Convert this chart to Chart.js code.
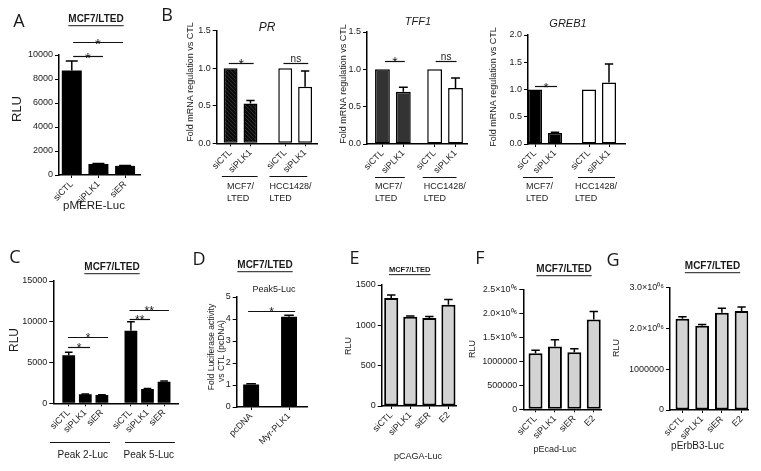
<!DOCTYPE html>
<html><head><meta charset="utf-8">
<script src="https://cdn.jsdelivr.net/npm/chart.js@4/dist/chart.umd.min.js"></script>
<style>
html,body{margin:0;padding:0;background:#fff}
#wrap{position:relative;width:761px;height:471px;background:#fff;overflow:hidden}
#wrap canvas{position:absolute;left:0;top:0}
</style></head>
<body><div id="wrap"></div>
<script>
// ---------- DATA ----------
// Panel A
const aLabels = ['siCTL', 'siPLK1', 'siER'];
const aValues = [8700, 920, 760];
const aErrTop = [9500, 960, 800];
const aYTicks = [0, 2000, 4000, 6000, 8000, 10000];
const aYTickLabels = ['0', '2000', '4000', '6000', '8000', '10000'];
// Panel B
const bLabels = ['siCTL', 'siPLK1', 'siCTL', 'siPLK1'];
const bGroups = [['MCF7/', 'LTED'], ['HCC1428/', 'LTED']];
const prValues = [1.0, 0.53, 1.0, 0.755];
const prErrTop = [1.0, 0.57, 1.0, 0.965];
const tff1Values = [1.0, 0.70, 1.0, 0.75];
const tff1ErrTop = [1.0, 0.76, 1.0, 0.885];
const greb1Values = [1.0, 0.20, 1.0, 1.13];
const greb1ErrTop = [1.0, 0.215, 1.0, 1.47];
const bYTicks15 = [0, 0.5, 1.0, 1.5];
const bYTickLabels15 = ['0.0', '0.5', '1.0', '1.5'];
const bYTicks20 = [0, 0.5, 1.0, 1.5, 2.0];
const bYTickLabels20 = ['0.0', '0.5', '1.0', '1.5', '2.0'];
// Panel C
const cLabels = ['siCTL', 'siPLK1', 'siER', 'siCTL', 'siPLK1', 'siER'];
const cGroups = [['Peak 2-Luc'], ['Peak 5-Luc']];
const cValues = [5900, 1100, 1020, 8900, 1750, 2650];
const cErrTop = [6250, 1130, 1060, 10000, 1800, 2720];
const cYTicks = [0, 5000, 10000, 15000];
const cYTickLabels = ['0', '5000', '10000', '15000'];
// Panel D
const dLabels = ['pcDNA', 'Myr-PLK1'];
const dValues = [1.02, 4.1];
const dErrTop = [1.06, 4.17];
const dYTicks = [0, 1, 2, 3, 4, 5];
const dYTickLabels = ['0', '1', '2', '3', '4', '5'];
// Panels E, F, G
const efgLabels = ['siCTL', 'siPLK1', 'siER', 'E2'];
const eValues = [1340, 1105, 1090, 1255];
const eErrTop = [1375, 1115, 1110, 1320];
const eYTicks = [0, 500, 1000, 1500];
const eYTickLabels = ['0', '500', '1000', '1500'];
const fValues = [1170000, 1310000, 1190000, 1870000];
const fErrTop = [1230000, 1450000, 1260000, 2040000];
const fYTicks = [0, 500000, 1000000, 1500000, 2000000, 2500000];
const fYTickLabels = ['0', '500000', '1000000', '1.5×10⁰⁶', '2.0×10⁰⁶', '2.5×10⁰⁶'];
const gValues = [2230000, 2060000, 2380000, 2420000];
const gErrTop = [2280000, 2090000, 2490000, 2520000];
const gYTicks = [0, 1000000, 2000000, 3000000];
const gYTickLabels = ['0', '1000000', '2.0×10⁰⁶', '3.0×10⁰⁶'];

// ---------- STYLE / LAYOUT ----------
const W = 761, H = 471;
const FONT = "'Liberation Sans', Arial, Helvetica, sans-serif";
const LETTER_FONT = "'Open Sans', 'Liberation Sans', sans-serif";
const TXT = '#1a1a1a';
Chart.defaults.font.family = FONT;
Chart.defaults.color = TXT;

function hatchPattern() {
  const c = document.createElement('canvas'); c.width = 4; c.height = 4;
  const g = c.getContext('2d');
  g.fillStyle = '#0c0c0c'; g.fillRect(0, 0, 4, 4);
  g.fillStyle = '#2e2e2e';
  for (let i = 0; i < 4; i++) { g.fillRect(i, i, 1, 1); }
  return g.createPattern(c, 'repeat');
}
const HATCH = hatchPattern();

function drawText(ctx, t) {
  ctx.save();
  const size = t.size || 9;
  ctx.font = `${t.style || 'normal'} ${t.weight || 'normal'} ${size}px ${t.family || FONT}`;
  ctx.fillStyle = t.color || TXT;
  ctx.textAlign = t.align || 'center';
  ctx.textBaseline = t.baseline || 'middle';
  ctx.translate(t.x, t.y);
  if (t.rotate) ctx.rotate(t.rotate * Math.PI / 180);
  ctx.fillText(t.text, 0, 0);
  if (t.underline) {
    const w = ctx.measureText(t.text).width;
    const x0 = ctx.textAlign === 'center' ? -w / 2 : 0;
    ctx.fillRect(x0, size * 0.62, w, 1);
  }
  ctx.restore();
}

function titleText(x, y, size) {
  return {text: 'MCF7/LTED', x, y, size: size || 10, weight: 'bold', underline: true};
}

const panels = [
  { // A
    labels: aLabels, values: aValues, errTop: aErrTop, yTicks: aYTicks, yTickLabels: aYTickLabels,
    xPos: [0, 1, 2], xMin: -0.48, xMax: 2.56, area: [59, 55, 140, 175], yMax: 10000, barFrac: 0.75,
    fill: '#000', borderWidth: 0, starSize: 15,
    brackets: [{x0: 0.05, x1: 1.17, y: 9940, text: '*'}, {x0: 0.05, x1: 1.92, y: 11100, text: '*'}],
    texts: [
      {text: 'A', x: 19, y: 22, size: 18, family: LETTER_FONT},
      titleText(96, 19),
      {text: 'pMERE-Luc', x: 94, y: 206, size: 11.5},
      {text: 'RLU', x: 17, y: 109, size: 13, rotate: -90}
    ]
  },
  { // B - PR
    labels: bLabels, values: prValues, errTop: prErrTop, yTicks: bYTicks15, yTickLabels: bYTickLabels15,
    xPos: [0, 1, 2.75, 3.75], xMin: -0.7, xMax: 4.4, area: [216.7, 30.8, 318, 143.3], yMax: 1.5, barFrac: 0.7,
    fill: [HATCH, HATCH, '#fff', '#fff'], borderWidth: 1.5, starSize: 14,
    brackets: [{x0: -0.09, x1: 1.16, y: 1.067, text: '*'}, {x0: 2.66, x1: 3.91, y: 1.067, text: 'ns'}],
    groups: [{x0: -0.44, x1: 1.36, tx: -0.18, lines: bGroups[0]}, {x0: 1.96, x1: 3.86, tx: 1.96, lines: bGroups[1]}],
    groupLineY: 176, groupTextY: [187, 199], groupAlign: 'left', groupSize: 9,
    texts: [
      {text: 'B', x: 167, y: 16, size: 18, family: LETTER_FONT},
      {text: 'PR', x: 267, y: 28, size: 12, style: 'italic'},
      {text: 'Fold mRNA regulation vs CTL', x: 191, y: 82, size: 9, rotate: -90}
    ]
  },
  { // B - TFF1
    labels: bLabels, values: tff1Values, errTop: tff1ErrTop, yTicks: bYTicks15, yTickLabels: bYTickLabels15,
    xPos: [0, 1, 2.5, 3.5], xMin: -0.74, xMax: 4.05, area: [367, 32, 467, 144], yMax: 1.5, barFrac: 0.71,
    fill: ['#333', '#333', '#fff', '#fff'], borderWidth: 1.5, starSize: 14,
    brackets: [{x0: 0.12, x1: 1.07, y: 1.11, text: '*'}, {x0: 2.55, x1: 3.55, y: 1.11, text: 'ns'}],
    groups: [{x0: -0.36, x1: 1.07, tx: -0.36, lines: bGroups[0]}, {x0: 1.93, x1: 3.55, tx: 1.98, lines: bGroups[1]}],
    groupLineY: 177, groupTextY: [187, 199], groupAlign: 'left', groupSize: 9,
    texts: [
      {text: 'TFF1', x: 418, y: 22, size: 11, style: 'italic'},
      {text: 'Fold mRNA regulation vs CTL', x: 344, y: 84, size: 9, rotate: -90}
    ]
  },
  { // B - GREB1
    labels: bLabels, values: greb1Values, errTop: greb1ErrTop, yTicks: bYTicks20, yTickLabels: bYTickLabels20,
    xPos: [0, 1, 2.7, 3.7], xMin: -0.35, xMax: 4.5, area: [528, 35, 625, 144], yMax: 2.0, barFrac: 0.7,
    fill: ['#000', '#000', '#fff', '#fff'], borderWidth: 1.5, starSize: 13,
    brackets: [{x0: 0, x1: 1.1, y: 1.064, text: '*'}],
    groups: [{x0: -0.6, x1: 0.9, tx: -0.45, lines: bGroups[0]}, {x0: 2.15, x1: 4.0, tx: 2.0, lines: bGroups[1]}],
    groupLineY: 177, groupTextY: [187, 199], groupAlign: 'left', groupSize: 9,
    texts: [
      {text: 'GREB1', x: 568, y: 24, size: 11, style: 'italic'},
      {text: 'Fold mRNA regulation vs CTL', x: 494, y: 87, size: 9, rotate: -90}
    ]
  },
  { // C
    labels: cLabels, values: cValues, errTop: cErrTop, yTicks: cYTicks, yTickLabels: cYTickLabels,
    xPos: [0, 1, 2, 3.75, 4.75, 5.75], xMin: -0.93, xMax: 6.59, area: [53.3, 281, 178, 403.3], yMax: 15000, barFrac: 0.77,
    fill: '#000', borderWidth: 0, starSize: 12,
    brackets: [
      {x0: -0.04, x1: 1.28, y: 6942, text: '*'}, {x0: -0.04, x1: 2.37, y: 8168, text: '*'},
      {x0: 3.67, x1: 4.9, y: 10340, text: '**'}, {x0: 3.67, x1: 6.04, y: 11443, text: '**'}
    ],
    groups: [{x0: -1.13, x1: 2.49, tx: 0.85, lines: cGroups[0]}, {x0: 3.4, x1: 6.4, tx: 4.83, lines: cGroups[1]}],
    groupLineY: 441.7, groupTextY: [455], groupAlign: 'center', groupSize: 10,
    texts: [
      {text: 'C', x: 15, y: 258, size: 18, family: LETTER_FONT},
      titleText(112, 267),
      {text: 'RLU', x: 15, y: 340, size: 12, rotate: -90}
    ]
  },
  { // D
    labels: dLabels, values: dValues, errTop: dErrTop, yTicks: dYTicks, yTickLabels: dYTickLabels,
    xPos: [0, 1], xMin: -0.38, xMax: 1.5, area: [236.7, 297, 308, 407], yMax: 5, barFrac: 0.42,
    fill: '#000', borderWidth: 0, starSize: 12,
    brackets: [{x0: -0.08, x1: 1.16, y: 4.38, text: '*'}],
    texts: [
      {text: 'D', x: 199, y: 260, size: 18, family: LETTER_FONT},
      titleText(265, 265),
      {text: 'Peak5-Luc', x: 274, y: 290, size: 9},
      {text: 'Fold Luciferase activity', x: 211.7, y: 347, size: 8.5, rotate: -90},
      {text: 'vs CTL (pcDNA)', x: 221.7, y: 351, size: 8.5, rotate: -90}
    ]
  },
  { // E
    labels: efgLabels, values: eValues, errTop: eErrTop, yTicks: eYTicks, yTickLabels: eYTickLabels,
    xPos: [0, 1, 2, 3], xMin: -0.5, xMax: 3.45, area: [381.7, 285, 457, 406], yMax: 1500, barFrac: 0.74,
    fill: '#d3d3d3', borderWidth: 2, starSize: 12, brackets: [],
    texts: [
      {text: 'E', x: 354.5, y: 259, size: 18, family: LETTER_FONT},
      titleText(409.7, 269.5, 7.5),
      {text: 'pCAGA-Luc', x: 418, y: 457, size: 9},
      {text: 'RLU', x: 349, y: 346, size: 9, rotate: -90}
    ]
  },
  { // F
    labels: efgLabels, values: fValues, errTop: fErrTop, yTicks: fYTicks, yTickLabels: fYTickLabels,
    xPos: [0, 1, 2, 3], xMin: -0.63, xMax: 3.41, area: [523.3, 289.3, 601.7, 409.3], yMax: 2500000, barFrac: 0.72,
    fill: '#d3d3d3', borderWidth: 2, starSize: 12, brackets: [],
    texts: [
      {text: 'F', x: 480, y: 259, size: 18, family: LETTER_FONT},
      titleText(564, 269),
      {text: 'pEcad-Luc', x: 555, y: 450, size: 9},
      {text: 'RLU', x: 473, y: 349, size: 9, rotate: -90}
    ]
  },
  { // G
    labels: efgLabels, values: gValues, errTop: gErrTop, yTicks: gYTicks, yTickLabels: gYTickLabels,
    xPos: [0, 1, 2, 3], xMin: -0.63, xMax: 3.34, area: [670, 287.3, 748.3, 410], yMax: 3000000, barFrac: 0.7,
    fill: '#d3d3d3', borderWidth: 2, starSize: 12, brackets: [],
    texts: [
      {text: 'G', x: 613, y: 261, size: 18, family: LETTER_FONT},
      titleText(712.5, 266),
      {text: 'pErbB3-Luc', x: 697.5, y: 446, size: 10},
      {text: 'RLU', x: 616.5, y: 348, size: 9, rotate: -90}
    ]
  }
];

function extrasPlugin(p) {
  return {
    id: 'extras',
    afterDatasetsDraw(chart) {
      const ctx = chart.ctx, ys = chart.scales.y;
      const meta = chart.getDatasetMeta(0);
      ctx.save();
      ctx.strokeStyle = '#000'; ctx.lineWidth = 1.5;
      p.errTop.forEach((e, i) => {
        if (e == null || e <= p.values[i]) return;
        const bar = meta.data[i];
        const x = bar.x, w = bar.width * 0.6;
        const y0 = ys.getPixelForValue(p.values[i]), y1 = ys.getPixelForValue(e);
        ctx.beginPath();
        ctx.moveTo(x, y0); ctx.lineTo(x, y1);
        ctx.moveTo(x - w / 2, y1); ctx.lineTo(x + w / 2, y1);
        ctx.stroke();
      });
      ctx.restore();
    },
    afterDraw(chart) {
      const ctx = chart.ctx, xs = chart.scales.x, ys = chart.scales.y;
      ctx.save();
      ctx.strokeStyle = '#111'; ctx.lineWidth = 1.2;
      (p.brackets || []).forEach(b => {
        const y = Math.round(ys.getPixelForValue(b.y)) + 0.5;
        const x0 = xs.getPixelForValue(b.x0), x1 = xs.getPixelForValue(b.x1);
        ctx.beginPath(); ctx.moveTo(x0, y); ctx.lineTo(x1, y); ctx.stroke();
        const mid = (x0 + x1) / 2;
        if (b.text === 'ns') drawText(ctx, {text: 'ns', x: mid, y: y - 2, size: 10, baseline: 'alphabetic'});
        else drawText(ctx, {text: b.text, x: mid, y: y + p.starSize * 0.4, size: p.starSize, baseline: 'alphabetic'});
      });
      ctx.lineWidth = 1;
      (p.groups || []).forEach(g => {
        const x0 = xs.getPixelForValue(g.x0), x1 = xs.getPixelForValue(g.x1);
        const ly = Math.round(p.groupLineY) + 0.5;
        ctx.beginPath(); ctx.moveTo(x0, ly); ctx.lineTo(x1, ly); ctx.stroke();
        const tx = xs.getPixelForValue(g.tx);
        g.lines.forEach((ln, k) => drawText(ctx, {text: ln, x: tx, y: p.groupTextY[k], size: p.groupSize, align: p.groupAlign}));
      });
      ctx.restore();
      p.texts.forEach(t => drawText(ctx, t));
    }
  };
}

const wrap = document.getElementById('wrap');
const YW = 40, XH = 40;
panels.forEach(p => {
  const cv = document.createElement('canvas');
  cv.width = W; cv.height = H;
  cv.style.width = W + 'px'; cv.style.height = H + 'px';
  wrap.appendChild(cv);
  const [L, T, R, B] = p.area;
  new Chart(cv, {
    type: 'bar',
    data: {
      datasets: [{
        data: p.values.map((v, i) => ({x: p.xPos[i], y: v})),
        backgroundColor: p.fill,
        borderColor: '#000',
        borderWidth: p.borderWidth,
        borderSkipped: false,
        categoryPercentage: p.barFrac,
        barPercentage: 1
      }]
    },
    options: {
      responsive: false,
      animation: false,
      devicePixelRatio: 1,
      layout: {padding: {left: L - YW, top: T, right: W - R, bottom: H - B - XH}},
      plugins: {legend: {display: false}, tooltip: {enabled: false}},
      scales: {
        x: {
          type: 'linear', min: p.xMin, max: p.xMax, offset: false,
          afterBuildTicks: s => { s.ticks = p.xPos.map(v => ({value: v})); },
          afterFit: s => { s.height = XH; },
          ticks: {
            callback: (v, i) => p.labels[i], minRotation: 45, maxRotation: 45, autoSkip: false,
            font: {size: 9}, padding: 1, color: TXT
          },
          grid: {display: true, drawOnChartArea: false, drawTicks: true, tickLength: 3, color: '#000', lineWidth: 1, offset: false},
          border: {display: true, color: '#000', width: 1.5}
        },
        y: {
          type: 'linear', min: 0, max: p.yMax,
          afterBuildTicks: s => { s.ticks = p.yTicks.map(v => ({value: v})); },
          afterFit: s => { s.width = YW; },
          ticks: {callback: (v, i) => p.yTickLabels[i], font: {size: 9}, padding: 2, color: TXT},
          grid: {display: true, drawOnChartArea: false, drawTicks: true, tickLength: 4, color: '#000', lineWidth: 1},
          border: {display: true, color: '#000', width: 1.5}
        }
      }
    },
    plugins: [extrasPlugin(p)]
  });
});
</script>
</body></html>
